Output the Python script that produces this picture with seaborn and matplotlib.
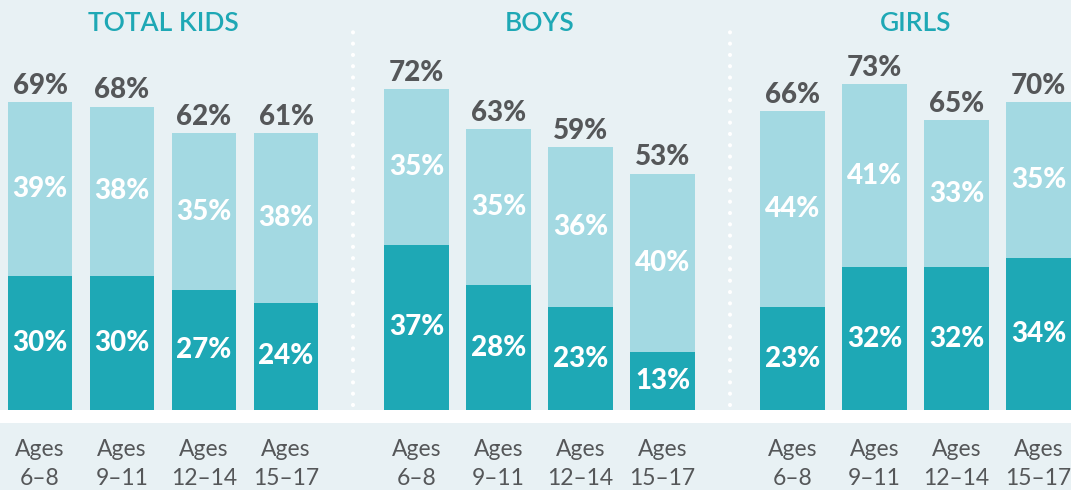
import numpy as np
import pandas as pd
import matplotlib.pyplot as plt
import seaborn as sns
from matplotlib.lines import Line2D
from matplotlib.patches import Rectangle

groups = ['TOTAL KIDS', 'BOYS', 'GIRLS']
ages = ['Ages\n6\u20138', 'Ages\n9\u201311', 'Ages\n12\u201314', 'Ages\n15\u201317']
dark_vals = [[30, 30, 27, 24], [37, 28, 23, 13], [23, 32, 32, 34]]
light_vals = [[39, 38, 35, 38], [35, 35, 36, 40], [44, 41, 33, 35]]
total_labels = [[69, 68, 62, 61], [72, 63, 59, 53], [66, 73, 65, 70]]

DARK = '#1ea8b5'
LIGHT = '#a3d9e2'
GREY = '#555759'
BG = '#e8f1f4'

sns.set_theme(style='white')
plt.rcParams['font.family'] = ['Lato', 'DejaVu Sans']

W, H = 1071, 490
fig = plt.figure(figsize=(W / 100, H / 100), dpi=100, facecolor=BG)

# white band under the bars
fig.patches.append(Rectangle((0, (H - 423) / H), 1, 13 / H, transform=fig.transFigure,
                             facecolor='white', edgecolor='none', zorder=0))

lefts = [-1, 375.5, 751.5]
base_y = 410
ymax = 80
px_per_unit = 4.46
for g, name in enumerate(groups):
    ax = fig.add_axes([lefts[g] / W, (H - base_y) / H, 328 / W, ymax * px_per_unit / H])
    ax.set_facecolor('none')
    df = pd.DataFrame({'age': ages, 'dark': dark_vals[g], 'light': light_vals[g]})
    df['stack'] = df['dark'] + df['light']
    sns.barplot(data=df, x='age', y='stack', color=LIGHT, width=0.79, saturation=1,
                linewidth=0, ax=ax)
    sns.barplot(data=df, x='age', y='dark', color=DARK, width=0.79, saturation=1,
                linewidth=0, ax=ax)
    for i, row in df.iterrows():
        ax.text(i, row['dark'] / 2, f"{row['dark']}%", ha='center', va='center',
                color='white', fontsize=20, fontweight='black')
        ax.text(i, row['dark'] + row['light'] / 2, f"{row['light']}%", ha='center', va='center',
                color='white', fontsize=20, fontweight='black')
        ax.annotate(f"{total_labels[g][i]}%", xy=(i, row['stack']), xytext=(0, 6),
                    textcoords='offset points', ha='center', va='baseline',
                    color=GREY, fontsize=20, fontweight='black')
    ax.set_ylim(0, ymax)
    ax.set_xlim(-0.5, 3.5)
    ax.set_xlabel('')
    ax.set_ylabel('')
    ax.set_yticks([])
    ax.tick_params(axis='x', length=0, pad=21, labelsize=16.5, labelcolor=GREY)
    for lbl in ax.get_xticklabels():
        lbl.set_linespacing(1.45)
    sns.despine(ax=ax, left=True, bottom=True)
    ax.set_title(name, color=DARK, fontsize=19, fontweight='semibold', pad=16)

# dotted separators
for xs in [353, 730]:
    fig.lines.append(Line2D([xs / W, xs / W], [(H - 405) / H, (H - 30) / H],
                            transform=fig.transFigure, color='white', linewidth=3,
                            linestyle=(0, (0.01, 2.7)), dash_capstyle='round'))

fig.savefig('out.png', dpi=100, facecolor=BG)
